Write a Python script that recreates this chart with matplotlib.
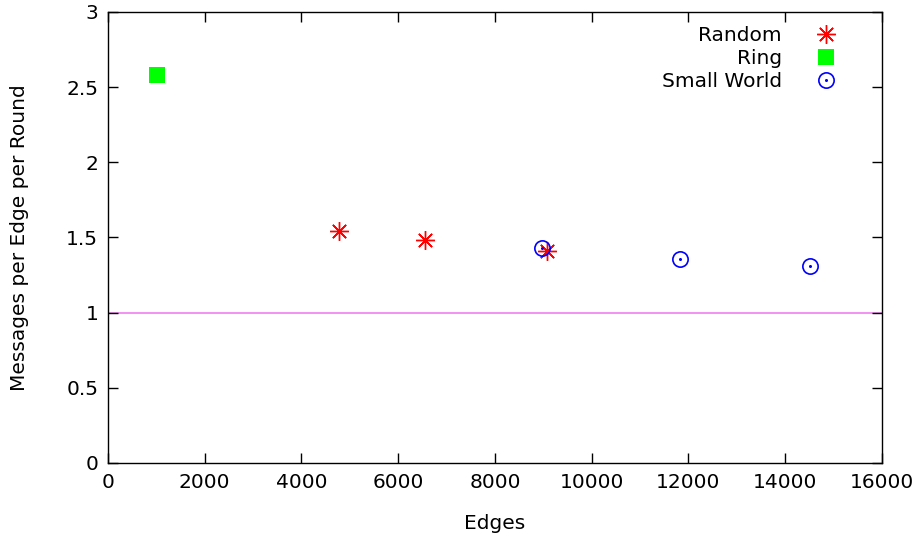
import matplotlib
matplotlib.use("Agg")
import matplotlib.pyplot as plt
from matplotlib.legend_handler import HandlerTuple

# data
random_edges = [4775, 6550, 9070]
random_msgs = [1.54, 1.48, 1.41]
ring_edges = [1010]
ring_msgs = [2.58]
sw_edges = [8970, 11820, 14510]
sw_msgs = [1.43, 1.36, 1.31]
baseline = 1.0

x_ticks = list(range(0, 16001, 2000))
y_ticks = [0, 0.5, 1, 1.5, 2, 2.5, 3]
y_tick_labels = ["0", "0.5", "1", "1.5", "2", "2.5", "3"]

plt.rcParams['font.family'] = ['DejaVu Sans']
fig = plt.figure(figsize=(9.22, 5.35), dpi=100)
ax = fig.add_axes([0.1171, 0.1346, 0.8395, 0.843])

ax.axhline(baseline, color="#ee82ee", lw=1.2, zorder=1)

h_rand, = ax.plot(random_edges, random_msgs, ls="none", marker=(8, 2, 0),
                  ms=13.5, mew=1.0, color="#ff0000", zorder=3)
h_ring, = ax.plot(ring_edges, ring_msgs, ls="none", marker="s", ms=11.5,
                  color="#00ff00", mew=0, zorder=3)
h_sw, = ax.plot(sw_edges, sw_msgs, ls="none", marker="o", ms=11,
                mfc="none", mec="#0000ff", mew=1.2, zorder=3)
h_swd, = ax.plot(sw_edges, sw_msgs, ls="none", marker="o", ms=2.2,
                 color="#0000ff", mew=0, zorder=3)

ax.set_xlim(0, 16000)
ax.set_ylim(0, 3)
ax.set_xticks(x_ticks)
ax.set_xticklabels([str(t) for t in x_ticks])
ax.set_yticks(y_ticks)
ax.set_yticklabels(y_tick_labels)
ax.tick_params(direction="in", length=7, width=1, top=True, right=True,
               labelsize=14.5, pad=7, colors="black")
for s in ax.spines.values():
    s.set_linewidth(1)

ax.set_xlabel("Edges", fontsize=14.5, labelpad=16)
ax.set_ylabel("Messages per Edge per Round", fontsize=14.5, labelpad=26.5)

leg = ax.legend([h_rand, h_ring, (h_sw, h_swd)], ["Random", "Ring", "Small World"],
                handler_map={tuple: HandlerTuple(ndivide=1, pad=0)},
                loc="upper right", markerfirst=False, frameon=False,
                fontsize=14.5, handlelength=2.2, handletextpad=1.1,
                labelspacing=0.2, borderaxespad=0.3,
                bbox_to_anchor=(0.975, 1.0))

fig.savefig("out.png", dpi=100)
